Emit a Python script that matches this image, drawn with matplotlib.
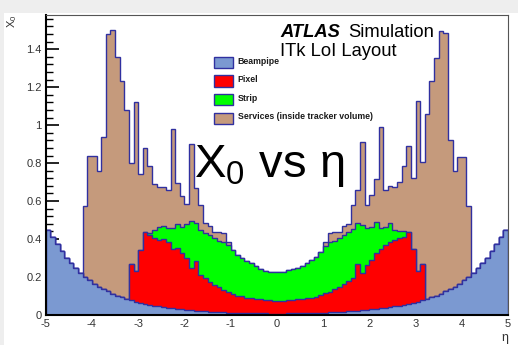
import numpy as np
import matplotlib
matplotlib.use("Agg")
import matplotlib.pyplot as plt
from matplotlib.patches import Rectangle

plt.rcParams["font.family"] = ["Liberation Sans", "DejaVu Sans"]
plt.rcParams["axes.unicode_minus"] = False
plt.rcParams["mathtext.default"] = "regular"

W, H, DPI = 518, 345, 100

# Binning in pseudorapidity
eta_lo, eta_hi, n_bins = -5.0, 5.0, 100
eta_edges = np.linspace(eta_lo, eta_hi, n_bins + 1)

# Radiation length per detector component (one value per 0.1 eta bin)
beampipe = [
    0.446, 0.410, 0.372, 0.336, 0.302, 0.272, 0.246, 0.222, 0.200, 0.182,
    0.165, 0.150, 0.136, 0.124, 0.112, 0.102, 0.093, 0.085, 0.077, 0.070,
    0.064, 0.058, 0.053, 0.049, 0.045, 0.041, 0.038, 0.035, 0.032, 0.029,
    0.027, 0.025, 0.023, 0.021, 0.019, 0.017, 0.016, 0.015, 0.014, 0.013,
    0.012, 0.011, 0.010, 0.0095, 0.009, 0.0085, 0.008, 0.008, 0.0075, 0.0075,
    0.0075, 0.0075, 0.008, 0.008, 0.0085, 0.009, 0.0095, 0.010, 0.011, 0.012,
    0.013, 0.014, 0.015, 0.016, 0.017, 0.019, 0.021, 0.023, 0.025, 0.027,
    0.029, 0.032, 0.035, 0.038, 0.041, 0.045, 0.049, 0.053, 0.058, 0.064,
    0.070, 0.077, 0.085, 0.093, 0.102, 0.112, 0.124, 0.136, 0.150, 0.165,
    0.182, 0.200, 0.222, 0.246, 0.272, 0.302, 0.336, 0.372, 0.410, 0.446,
]

pixel = [
    0.0, 0.0, 0.0, 0.0, 0.0, 0.0, 0.0, 0.0, 0.0, 0.0,
    0.0, 0.0, 0.0, 0.0, 0.0, 0.0, 0.0, 0.0, 0.193, 0.162,
    0.276, 0.379, 0.367, 0.356, 0.350, 0.359, 0.347, 0.310, 0.323, 0.296,
    0.273, 0.225, 0.262, 0.191, 0.174, 0.158, 0.142, 0.131, 0.119, 0.107,
    0.100, 0.091, 0.088, 0.0825, 0.081, 0.0765, 0.075, 0.071, 0.0705, 0.0685,
    0.0685, 0.0685, 0.070, 0.071, 0.0735, 0.075, 0.0785, 0.081, 0.086, 0.093,
    0.101, 0.109, 0.123, 0.133, 0.148, 0.159, 0.174, 0.247, 0.195, 0.238,
    0.261, 0.293, 0.315, 0.330, 0.345, 0.350, 0.355, 0.359, 0.379, 0.281,
    0.162, 0.193, 0.0, 0.0, 0.0, 0.0, 0.0, 0.0, 0.0, 0.0,
    0.0, 0.0, 0.0, 0.0, 0.0, 0.0, 0.0, 0.0, 0.0, 0.0,
]

strip = [
    0.0, 0.0, 0.0, 0.0, 0.0, 0.0, 0.0, 0.0, 0.0, 0.0,
    0.0, 0.0, 0.0, 0.0, 0.0, 0.0, 0.0, 0.0, 0.0, 0.0,
    0.0, 0.0, 0.013, 0.042, 0.070, 0.068, 0.075, 0.113, 0.125, 0.141,
    0.180, 0.246, 0.200, 0.238, 0.240, 0.246, 0.246, 0.243, 0.252, 0.248,
    0.230, 0.214, 0.204, 0.194, 0.182, 0.171, 0.160, 0.155, 0.151, 0.152,
    0.152, 0.153, 0.158, 0.163, 0.167, 0.176, 0.184, 0.198, 0.210, 0.228,
    0.251, 0.263, 0.251, 0.255, 0.256, 0.259, 0.260, 0.212, 0.254, 0.193,
    0.175, 0.166, 0.106, 0.097, 0.096, 0.052, 0.040, 0.028, 0.0, 0.0,
    0.0, 0.0, 0.0, 0.0, 0.0, 0.0, 0.0, 0.0, 0.0, 0.0,
    0.0, 0.0, 0.0, 0.0, 0.0, 0.0, 0.0, 0.0, 0.0, 0.0,
]

services = [
    0.0, 0.0, 0.0, 0.0, 0.0, 0.0, 0.0, 0.0, 0.374, 0.653,
    0.670, 0.606, 0.804, 1.356, 1.388, 1.256, 1.137, 0.995, 0.530, 0.888,
    0.402, 0.443, 0.352, 0.243, 0.207, 0.207, 0.198, 0.524, 0.213, 0.160,
    0.104, 0.402, 0.182, 0.129, 0.049, 0.047, 0.035, 0.050, 0.048, 0.018,
    0.0, 0.0, 0.0, 0.0, 0.0, 0.0, 0.0, 0.0, 0.0, 0.0,
    0.0, 0.0, 0.0, 0.0, 0.0, 0.0, 0.0, 0.0, 0.0, 0.0,
    0.021, 0.047, 0.050, 0.035, 0.047, 0.041, 0.124, 0.178, 0.438, 0.121,
    0.167, 0.223, 0.532, 0.193, 0.197, 0.228, 0.256, 0.344, 0.452, 0.374,
    0.896, 0.538, 0.975, 1.141, 1.254, 1.384, 1.363, 0.788, 0.606, 0.666,
    0.649, 0.374, 0.0, 0.0, 0.0, 0.0, 0.0, 0.0, 0.0, 0.0,
]

layer_names = ["Beampipe", "Pixel", "Strip", "Services (inside tracker volume)"]
layer_colors = ["#7b99d1", "#ff0000", "#00ff00", "#c59a7c"]
outline = "#3030a0"

xticks = [-5, -4, -3, -2, -1, 0, 1, 2, 3, 4, 5]
xticklabels = ["-5", "-4", "-3", "-2", "-1", "0", "1", "2", "3", "4", "5"]
yticks = [0, 0.2, 0.4, 0.6, 0.8, 1.0, 1.2, 1.4]
yticklabels = ["0", "0.2", "0.4", "0.6", "0.8", "1", "1.2", "1.4"]


def fx(x):
    return x / W


def fy(y):
    return 1 - y / H


fig = plt.figure(figsize=(W / DPI, H / DPI), dpi=DPI, facecolor="white")

# Slide background: light grey margins and a blue band at the top right
bg = fig.add_axes([0, 0, 1, 1], zorder=-10)
bg.set_xlim(0, W)
bg.set_ylim(H, 0)
bg.axis("off")
bg.add_patch(Rectangle((0, 0), W, 13, color="#eeeeee", lw=0))
bg.add_patch(Rectangle((0, 0), 4, H, color="#eeeeee", lw=0))
grad = np.linspace(0, 1, 256)[None, :]
band_cmap = matplotlib.colors.LinearSegmentedColormap.from_list(
    "band", ["#eef2f8", "#9fb8d8", "#2d66ad"])
bg.imshow(grad, cmap=band_cmap, extent=(258, W, 5, 0), aspect="auto")

ax = fig.add_axes([fx(45.7), fy(315), fx(508) - fx(45.7), fy(15) - fy(315)])

stack = np.cumsum(np.array([beampipe, pixel, strip, services]), axis=0)
for k in reversed(range(len(layer_names))):
    ax.stairs(stack[k], eta_edges, baseline=0, fill=True,
              facecolor=layer_colors[k], edgecolor=outline, linewidth=1.0,
              zorder=2 + (3 - k))

ax.set_xlim(eta_lo, eta_hi)
ax.set_ylim(0, 1.58)
ax.set_xticks(xticks)
ax.set_xticklabels(xticklabels)
ax.set_xticks(np.arange(-5, 5.001, 0.2), minor=True)
ax.set_yticks(yticks)
ax.set_yticklabels(yticklabels)
ax.set_yticks(np.arange(0, 1.57, 0.04), minor=True)
ax.tick_params(axis="both", which="both", direction="in", colors="black",
               labelcolor="#333333", labelsize=8, top=False, right=False)
ax.tick_params(axis="y", which="major", length=9, width=1.2, pad=3)
ax.tick_params(axis="y", which="minor", length=5, width=1.0)
ax.tick_params(axis="x", which="major", length=6.5, width=1.2, pad=3)
ax.tick_params(axis="x", which="minor", length=3.2, width=1.0)
for side in ["left", "bottom"]:
    ax.spines[side].set_linewidth(1.5)
for side in ["top", "right"]:
    ax.spines[side].set_linewidth(0.8)
    ax.spines[side].set_color("#555555")
for s in ax.spines.values():
    s.set_zorder(10)

# Axis titles
fig.text(fx(12), fy(15), "X$_0$", rotation=90, ha="center", va="top",
         fontsize=8, color="#333333")
fig.text(fx(508), fy(341), "η", ha="right", va="baseline", fontsize=9,
         color="#333333")

# Legend
for k, name in enumerate(layer_names):
    yc = 62.5 + 18.6 * k
    fig.add_artist(Rectangle((fx(214.3), fy(yc + 5.8)), fx(233.3) - fx(214.3),
                             11.6 / H, transform=fig.transFigure,
                             facecolor=layer_colors[k], edgecolor=outline,
                             linewidth=1.0, zorder=20))
    fig.text(fx(237.7), fy(yc - 1.5), name, ha="left", va="center",
             fontsize=6.3, fontweight="bold", color="#1a1a1a", zorder=21)

# Labels
fig.text(fx(280), fy(37), "ATLAS", fontsize=13.2, fontweight="bold",
         fontstyle="italic", ha="left", va="baseline", zorder=22)
fig.text(fx(348), fy(37), "Simulation", fontsize=13.2, ha="left",
         va="baseline", zorder=22)
fig.text(fx(280), fy(56), "ITk LoI Layout", fontsize=13.2, ha="left",
         va="baseline", zorder=22)
fig.text(fx(194), fy(177), "X$_0$ vs η", fontsize=34, ha="left",
         va="baseline", zorder=22)

fig.savefig("out.png", dpi=DPI, facecolor="white")
